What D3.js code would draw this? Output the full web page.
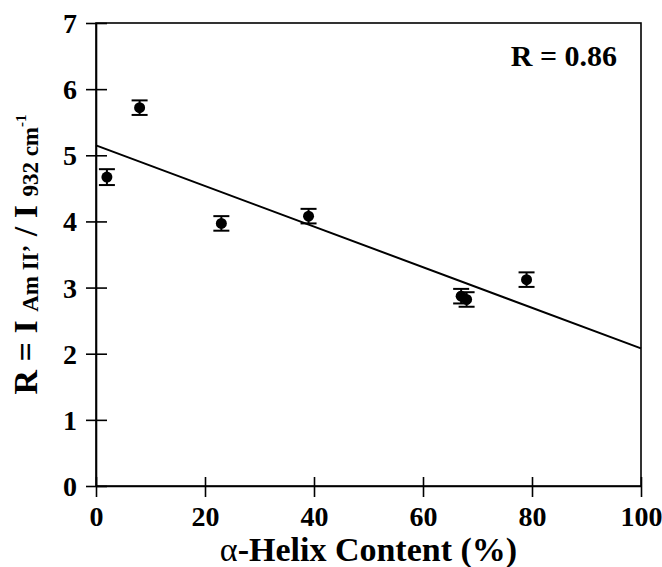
<!DOCTYPE html>
<html>
<head>
<meta charset="utf-8">
<script src="https://cdn.jsdelivr.net/npm/d3@7"></script>
<style>
  html, body { margin: 0; padding: 0; background: #fff; }
  svg { display: block; }
  text { font-family: "Liberation Serif", "Times New Roman", serif; font-weight: bold; fill: #000; }
</style>
</head>
<body>
<svg id="chart" width="662" height="567"></svg>
<script>
// α-helix content (%) of each sample
const helix = [2, 8, 23, 39, 67, 68, 79];
// intensity ratio R for each sample
const ratio = [4.67, 5.72, 3.97, 4.08, 2.87, 2.82, 3.12];
// uncertainty of each ratio
const ratioErr = [0.12, 0.11, 0.11, 0.11, 0.11, 0.11, 0.11];
// straight-line fit, given by its values at the two ends of the x range
const fitX = [0, 100];
const fitY = [5.15, 2.08];
const xTicks = [0, 20, 40, 60, 80, 100];
const yTicks = [0, 1, 2, 3, 4, 5, 6, 7];
const fitLabel = "R = 0.86";

const svg = d3.select("#chart");
const margin = { left: 96, right: 21, top: 23, bottom: 81 };
const W = 662, H = 567;

const x = d3.scaleLinear().domain([0, 100]).range([margin.left, W - margin.right]);
const y = d3.scaleLinear().domain([0, 7]).range([H - margin.bottom, margin.top]);

// frame
svg.append("rect")
  .attr("x", x(0)).attr("y", y(7))
  .attr("width", x(100) - x(0)).attr("height", y(0) - y(7))
  .attr("fill", "none").attr("stroke", "#000").attr("stroke-width", 1.6);

// x axis with ticks crossing the line
const gx = svg.append("g")
  .attr("transform", `translate(0,${y(0)})`)
  .call(d3.axisBottom(x).tickValues(xTicks).tickFormat(d3.format("d")).tickSizeOuter(0).tickPadding(12));
gx.select(".domain").attr("stroke-width", 1.6);
gx.selectAll(".tick line").attr("y1", -9).attr("y2", 11).attr("stroke-width", 1.6);
gx.selectAll(".tick text").attr("font-size", 28).attr("font-family", "Liberation Serif").attr("font-weight", "bold").attr("fill", "#000").attr("y", 20);

// y axis with ticks crossing the line
const gy = svg.append("g")
  .attr("transform", `translate(${x(0)},0)`)
  .call(d3.axisLeft(y).tickValues(yTicks).tickFormat(d3.format("d")).tickSizeOuter(0));
gy.select(".domain").attr("stroke-width", 1.6);
gy.selectAll(".tick line").attr("x1", -10).attr("x2", 11).attr("stroke-width", 1.6);
gy.selectAll(".tick text").attr("font-size", 28).attr("font-family", "Liberation Serif").attr("font-weight", "bold").attr("fill", "#000").attr("x", -19).attr("dy", "0.34em");

// fit line
svg.append("line")
  .attr("x1", x(fitX[0])).attr("y1", y(fitY[0]))
  .attr("x2", x(fitX[1])).attr("y2", y(fitY[1]))
  .attr("stroke", "#000").attr("stroke-width", 2);

const pts = helix.map((h, i) => ({ h, r: ratio[i], e: ratioErr[i] }));

// error bars
const eb = svg.append("g").attr("stroke", "#000").attr("stroke-width", 2);
pts.forEach(p => {
  const cx = x(p.h);
  eb.append("line").attr("x1", cx).attr("x2", cx).attr("y1", y(p.r + p.e)).attr("y2", y(p.r - p.e));
  [p.r + p.e, p.r - p.e].forEach(v => {
    eb.append("line").attr("x1", cx - 8).attr("x2", cx + 8).attr("y1", y(v)).attr("y2", y(v));
  });
});

// data points
svg.append("g").selectAll("circle").data(pts).join("circle")
  .attr("cx", d => x(d.h)).attr("cy", d => y(d.r)).attr("r", 5.5).attr("fill", "#000");

// correlation label
svg.append("text")
  .attr("x", 617).attr("y", 66).attr("text-anchor", "end").attr("font-size", 30)
  .text(fitLabel);

// x axis title
const xt = svg.append("text")
  .attr("x", (x(0) + x(100)) / 2).attr("y", 561).attr("text-anchor", "middle").attr("font-size", 34);
xt.append("tspan").attr("font-weight", "normal").text("α");
xt.append("tspan").text("-Helix Content (%)");

// y axis title with subscripts
const yt = svg.append("text")
  .attr("transform", `translate(37,${(y(0) + y(7)) / 2}) rotate(-90)`)
  .attr("text-anchor", "middle").attr("font-size", 34);
yt.append("tspan").text("R = I ");
yt.append("tspan").attr("font-size", 23).attr("dy", 1).text("Am II’");
yt.append("tspan").attr("dy", -1).text(" / I ");
yt.append("tspan").attr("font-size", 23).attr("dy", 1).text("932 cm");
yt.append("tspan").attr("font-size", 15).attr("dy", -12).text("-1");
</script>
</body>
</html>
